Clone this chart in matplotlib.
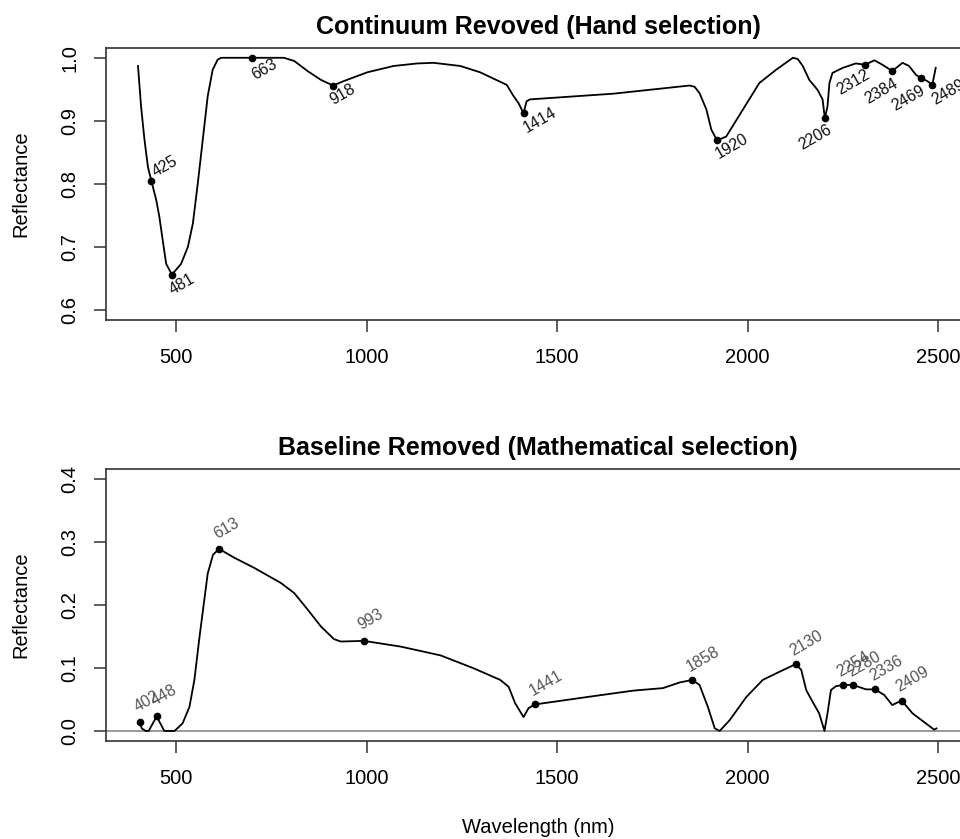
import numpy as np
import matplotlib.pyplot as plt

plt.rcParams["font.family"] = ["Liberation Sans", "DejaVu Sans"]

# Continuum removed spectrum (top)
top_wl = [400, 408, 417, 426, 435, 448, 456, 465, 474, 489, 513, 531, 544, 557, 570,
          583, 596, 609, 618, 640, 700, 783, 810, 845, 880, 912, 940, 1002, 1071,
          1133, 1176, 1246, 1298, 1368, 1386, 1399, 1412, 1420, 1429, 1647, 1848,
          1861, 1874, 1892, 1905, 1920, 1944, 1988, 2031, 2075, 2119, 2132, 2145,
          2162, 2184, 2197, 2203, 2210, 2215, 2223, 2250, 2284, 2309, 2333, 2354,
          2380, 2407, 2424, 2442, 2455, 2472, 2485, 2494]
top_refl = [0.987, 0.923, 0.870, 0.827, 0.805, 0.774, 0.748, 0.710, 0.673, 0.656,
            0.673, 0.700, 0.737, 0.801, 0.870, 0.939, 0.981, 0.997, 1.000, 1.000,
            1.000, 1.000, 0.995, 0.979, 0.965, 0.956, 0.963, 0.977, 0.987, 0.991,
            0.992, 0.987, 0.977, 0.957, 0.939, 0.928, 0.912, 0.931, 0.934, 0.943,
            0.956, 0.954, 0.944, 0.918, 0.886, 0.869, 0.875, 0.918, 0.960, 0.981,
            1.000, 0.998, 0.987, 0.965, 0.949, 0.934, 0.904, 0.923, 0.960, 0.976,
            0.984, 0.991, 0.989, 0.996, 0.989, 0.979, 0.992, 0.987, 0.973, 0.968,
            0.963, 0.957, 0.984]
top_pt_wl = [435, 489, 700, 912, 1412, 1920, 2203, 2309, 2380, 2455, 2485]
top_pt_refl = [0.805, 0.656, 1.000, 0.956, 0.912, 0.869, 0.904, 0.989, 0.979, 0.968, 0.957]
top_pt_labels = ["425", "481", "663", "918", "1414", "1920", "2206", "2312", "2384",
                 "2469", "2489"]

# Baseline removed spectrum (bottom)
bot_wl = [404, 410, 420, 428, 449, 469, 496, 517, 535, 548, 561, 574, 583, 597, 613,
          653, 705, 775, 810, 845, 880, 914, 932, 993, 1089, 1194, 1281, 1351, 1373,
          1390, 1412, 1425, 1441, 1569, 1700, 1778, 1822, 1855, 1874, 1896, 1914,
          1927, 1953, 1997, 2040, 2084, 2126, 2141, 2154, 2171, 2188, 2202, 2210,
          2219, 2232, 2250, 2277, 2311, 2335, 2359, 2380, 2393, 2405, 2433, 2468,
          2490, 2496]
bot_refl = [0.014, 0.004, 0.000, 0.000, 0.023, 0.000, 0.000, 0.012, 0.038, 0.081,
            0.147, 0.208, 0.250, 0.280, 0.289, 0.275, 0.259, 0.235, 0.219, 0.193,
            0.166, 0.146, 0.142, 0.143, 0.134, 0.120, 0.0995, 0.081, 0.070, 0.044,
            0.022, 0.036, 0.042, 0.053, 0.064, 0.068, 0.077, 0.081, 0.073, 0.038,
            0.004, 0.000, 0.017, 0.054, 0.081, 0.094, 0.106, 0.097, 0.065, 0.046,
            0.028, 0.000, 0.028, 0.065, 0.071, 0.073, 0.073, 0.066, 0.066, 0.057,
            0.041, 0.045, 0.048, 0.028, 0.012, 0.002, 0.004]
bot_pt_wl = [404, 449, 613, 993, 1441, 1855, 2126, 2250, 2277, 2335, 2405]
bot_pt_refl = [0.014, 0.023, 0.289, 0.143, 0.042, 0.081, 0.106, 0.073, 0.073, 0.066, 0.048]
bot_pt_labels = ["402", "448", "613", "993", "1441", "1858", "2130", "2254", "2280",
                 "2336", "2409"]

# label centre offsets in pixels (x right, y up)
top_offsets = [(14, 14), (10, -10), (12, -12), (10, -9), (16, -7), (15, -6),
               (-10, -19), (-12, -18), (-11, -20), (-12, -20), (16, -7)]

fig = plt.figure(figsize=(9.6, 8.39), dpi=100)
ax1 = fig.add_axes([106 / 960, 1 - 320 / 839, 864 / 960, 272.3 / 839])
ax2 = fig.add_axes([106 / 960, 1 - 741 / 839, 864 / 960, 272 / 839])

for ax in (ax1, ax2):
    ax.set_xlim(316, 2584)
    ax.set_xticks([500, 1000, 1500, 2000, 2500])
    ax.tick_params(axis="both", length=8.6, width=1.1, color="#333333",
                   labelsize=14.5, direction="out")
    ax.tick_params(axis="x", pad=11.5)
    ax.tick_params(axis="y", pad=10.5)
    for sp in ax.spines.values():
        sp.set_linewidth(1.2)
        sp.set_color("#333333")
    ax.set_ylabel("Reflectance", fontsize=14.5)
    ax.yaxis.set_label_coords(-0.088, 0.5)

# top panel
ax1.plot(top_wl, top_refl, color="black", lw=1.3)
ax1.plot(top_pt_wl, top_pt_refl, "o", color="black", ms=4.5)
ax1.set_ylim(0.584, 1.016)
ax1.set_yticks([0.6, 0.7, 0.8, 0.9, 1.0])
ax1.set_yticklabels(["0.6", "0.7", "0.8", "0.9", "1.0"], rotation=90, va="center")
ax1.set_title("Continuum Revoved (Hand selection)", fontsize=18, fontweight="bold", pad=10)
for x, y, s, off in zip(top_pt_wl, top_pt_refl, top_pt_labels, top_offsets):
    ax1.annotate(s, (x, y), xytext=off, textcoords="offset pixels", rotation=30,
                 ha="center", va="center", rotation_mode="anchor", fontsize=11.5,
                 color="#111111", annotation_clip=False)

# bottom panel
ax2.axhline(0, color="#999999", lw=1.4)
ax2.plot(bot_wl, bot_refl, color="black", lw=1.3)
ax2.plot(bot_pt_wl, bot_pt_refl, "o", color="black", ms=4.5)
ax2.set_ylim(-0.016, 0.416)
ax2.set_yticks([0.0, 0.1, 0.2, 0.3, 0.4])
ax2.set_yticklabels(["0.0", "0.1", "0.2", "0.3", "0.4"], rotation=90, va="center")
ax2.set_title("Baseline Removed (Mathematical selection)", fontsize=18, fontweight="bold", pad=10)
for x, y, s in zip(bot_pt_wl, bot_pt_refl, bot_pt_labels):
    dx = 7 if len(s) == 3 else 11
    ax2.annotate(s, (x, y), xytext=(dx, 21), textcoords="offset pixels", rotation=30,
                 ha="center", va="center", rotation_mode="anchor", fontsize=11.5,
                 color="#555555", annotation_clip=False)
ax2.set_xlabel("Wavelength (nm)", fontsize=14.5, labelpad=22)

fig.savefig("out.png", dpi=100)
